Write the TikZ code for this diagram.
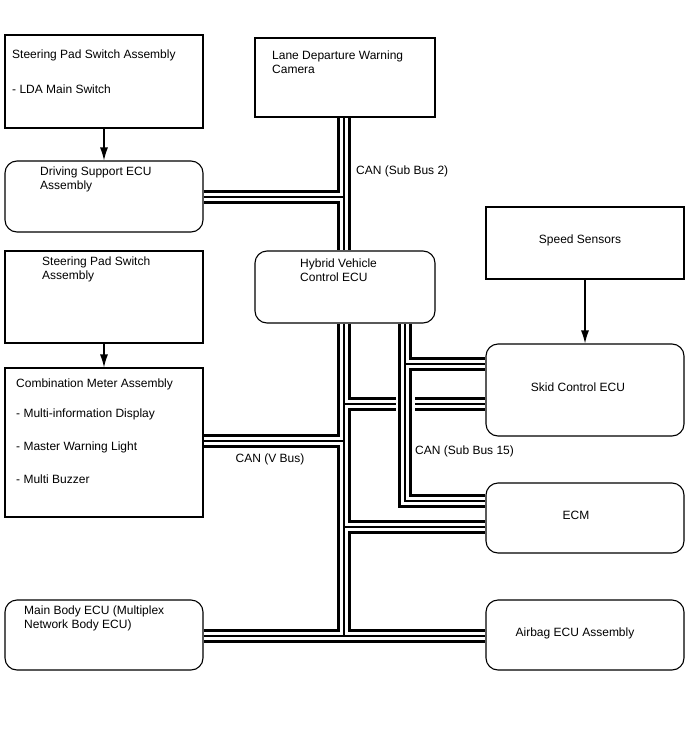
\documentclass[tikz,border=0pt]{standalone}
\usepackage{fontspec}
\setmainfont{Liberation Sans}
\usepackage{tikz}
\usetikzlibrary{arrows.meta,positioning,calc,backgrounds}
\tikzset{
  arr/.style={-{Latex[length=13pt,width=8pt]}, line width=1.1pt, draw=black},
  plainbox/.style={draw=black, fill=white, line width=1.1pt, inner sep=0pt, font=\fontsize{12pt}{14pt}\selectfont},
  ecubox/.style={plainbox, rounded corners=12pt},
  txt/.style={anchor=north west, inner sep=0pt, align=left, font=\fontsize{12pt}{14pt}\selectfont},
  buslbl/.style={inner sep=0pt, font=\fontsize{12pt}{14pt}\selectfont},
  bus/.style={line width=13.5pt, draw=black,
    postaction={draw=white, line width=8pt},
    postaction={draw=black, line width=1.6pt}},
  bushalo/.style={bus, preaction={draw=white, line width=19pt}}
}

\begin{document}
\begin{tikzpicture}[x=1pt,y=-1pt]
  \useasboundingbox (0,0) rectangle (688,755);
  % left column
  \node[plainbox, minimum width=198pt, minimum height=93pt] (spsA) at (104,81.5) {};
  \node[ecubox, minimum width=198pt, minimum height=71pt] (ds) at (104,196.5) {};
  \node[plainbox, minimum width=198pt, minimum height=92pt] (spsB) at (104,297) {};
  \node[plainbox, minimum width=198pt, minimum height=149pt] (cm) at (104,442.5) {};
  \node[ecubox, minimum width=198pt, minimum height=70pt] (mb) at (104,635) {};
  % middle column
  \node[plainbox, minimum width=180pt, minimum height=79pt] (cam) at (345,77.5) {};
  \node[ecubox, minimum width=180pt, minimum height=72pt] (hv) at (345,287) {};
  % right column
  \node[plainbox, minimum width=198pt, minimum height=72pt] (speed) at (585,243) {};
  \node[ecubox, minimum width=198pt, minimum height=92pt] (skid) at (585,390) {};
  \node[ecubox, minimum width=198pt, minimum height=70pt] (ecm) at (585,518) {};
  \node[ecubox, minimum width=198pt, minimum height=70pt] (ab) at (585,635) {};
  % box texts
  \node[txt] (spsAt) at (12,49.5) {Steering Pad Switch Assembly\\[21pt]- LDA Main Switch};
  \node[txt] (dst) at (40,166.5) {Driving Support ECU\\Assembly};
  \node[txt] (spsBt) at (42,256.5) {Steering Pad Switch\\Assembly};
  \node[txt] (cmt) at (16,378.5) {Combination Meter Assembly\\[16pt]- Multi-information Display\\[19pt]- Master Warning Light\\[19pt]- Multi Buzzer};
  \node[txt] (mbt) at (24,605.5) {Main Body ECU (Multiplex\\Network Body ECU)};
  \node[txt] (camt) at (272,50.5) {Lane Departure Warning\\Camera};
  \node[txt] (hvt) at (300,258.5) {Hybrid Vehicle\\Control ECU};
  \node[buslbl] (speedt) at (580,240) {Speed Sensors};
  \node[buslbl] (skidt) at (578,387) {Skid Control ECU};
  \node[buslbl] (ecmt) at (576,515) {ECM};
  \node[buslbl] (abt) at (575,633) {Airbag ECU Assembly};
  % bus labels
  \node[buslbl, anchor=west] (lSB2) at (356,171) {CAN (Sub Bus 2)};
  \node[buslbl] (lVB) at (270,459) {CAN (V Bus)};
  \node[buslbl, anchor=west] (lSB15) at (415,451) {CAN (Sub Bus 15)};
  % signal arrows
  \draw[arr] (spsA.south) -- (ds.north);
  \draw[arr] (spsB.south) -- (cm.north);
  \draw[arr] (speed.south) -- (skid.north);
  % junctions
  \coordinate (jSB2) at (344,197);
  \coordinate (jSK) at (344,404);
  \coordinate (jCM) at (344,441);
  \coordinate (jEC) at (344,527);
  \coordinate (jMB) at (344,636);
  \coordinate (kSK) at (405,364);
  \coordinate (kEC) at (405,501);
  \begin{scope}[on background layer]
    % V bus
    \draw[bus] (hv.south -| jCM) -- (jMB)
      (cm.east |- jCM) -- (jCM)
      (jSK) -- (skid.west |- jSK)
      (jEC) -- (ecm.west |- jEC)
      (mb.east |- jMB) -- (ab.west |- jMB);
    % sub bus 2
    \draw[bus] (cam.south -| jSB2) -- (hv.north -| jSB2)
      (ds.east |- jSB2) -- (jSB2);
    % sub bus 15
    \draw[bushalo] (hv.south -| kSK) -- (kEC) -- (ecm.west |- kEC)
      (kSK) -- (skid.west |- kSK);
  \end{scope}
\end{tikzpicture}
\end{document}
